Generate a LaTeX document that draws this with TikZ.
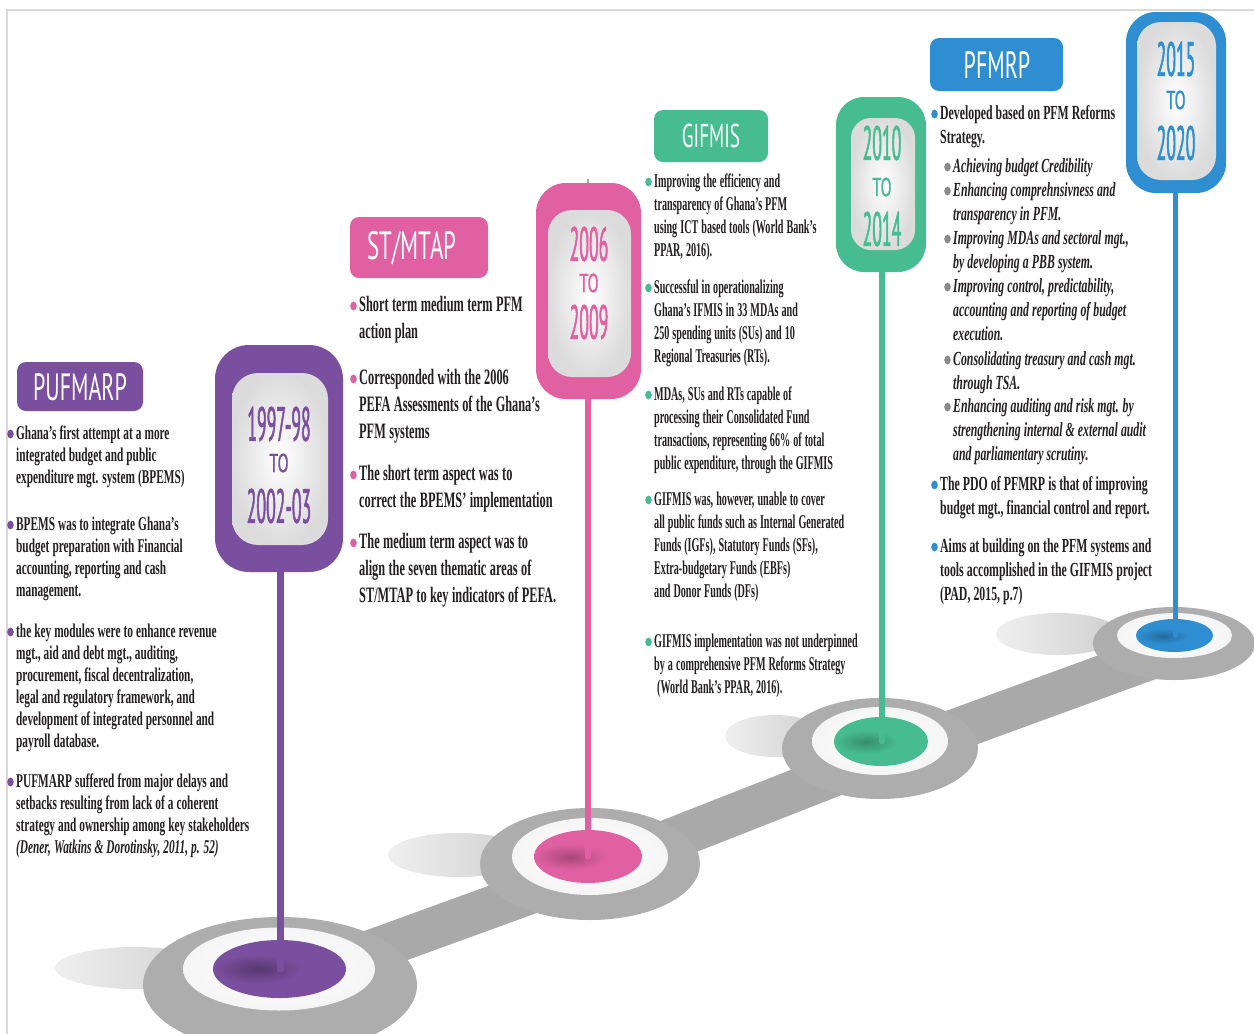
\documentclass[tikz,border=0pt]{standalone}
\usepackage{fontspec}
\setmainfont{Liberation Serif}
\newfontfamily\fpuf[FakeStretch=0.58]{Liberation Serif}
\newfontfamily\fst[FakeStretch=0.56]{Liberation Serif}
\newfontfamily\fgif[FakeStretch=0.52]{Liberation Serif}
\newfontfamily\fpfm[FakeStretch=0.59]{Liberation Serif}
\newfontfamily\ftitle[FakeStretch=0.58]{PT Sans}
\newfontfamily\fdate[FakeStretch=0.37,FakeBold=1]{PT Sans}
\newfontfamily\fto[FakeStretch=0.62,FakeBold=0.8]{PT Sans}
\usetikzlibrary{calc}
\definecolor{cpuf}{HTML}{7B4F9F}
\definecolor{cst}{HTML}{E060A1}
\definecolor{cgif}{HTML}{47BC92}
\definecolor{cpfm}{HTML}{2F8ED2}
\definecolor{diskgray}{HTML}{ADADAD}
\definecolor{txt}{HTML}{231F20}
\definecolor{framec}{HTML}{D9D9D9}
\definecolor{subgray}{HTML}{8A8A8A}
\newcommand\tightsp{\spaceskip=0.155em plus 0.05em\relax\xspaceskip=0.2em\relax}
\newcommand\bitem[6]{%
  \node[#4] (#1) at (#2,#3) {\tightsp #6};
  \fill[#5] ($(#1.base west)+(-5.5,-5)$) ellipse (3.3 and 4.4);}
\begin{document}
\begin{tikzpicture}[x=1pt,y=-1pt,
  para/.style={inner sep=0pt, anchor=base west, text width=330pt, align=left, text=txt},
  ppuf/.style={para, font=\fpuf\bfseries\fontsize{19.5}{22}\selectfont},
  pst/.style={para, font=\fst\bfseries\fontsize{22}{27.3}\selectfont},
  pgif/.style={para, font=\fgif\bfseries\fontsize{19.5}{23}\selectfont},
  ppfm/.style={para, font=\fpfm\bfseries\fontsize{20}{24}\selectfont},
  ppfmi/.style={para, font=\fpfm\bfseries\itshape\fontsize{20}{24}\selectfont},
  tab/.style={rounded corners=9pt},
  ttl/.style={inner sep=0pt, text=white},
  datebig/.style={inner sep=0pt, font=\fdate\fontsize{48}{48}\selectfont},
  datesmall/.style={inner sep=0pt, font=\fto\fontsize{26}{26}\selectfont},
  shadowdisk/.style={left color=gray!12, right color=gray!38},
]
\useasboundingbox (0,0) rectangle (1254,1034);
\fill[white] (0,0) rectangle (1254,1034);
\draw[framec, line width=2pt] (7,1034) -- (7,10) -- (1254,10);

% ---------- shadows ----------
\shade[shadowdisk] (135,968) ellipse (80 and 21);
\shade[shadowdisk] (458,855) ellipse (70 and 22);
\shade[shadowdisk] (775,736) ellipse (50 and 21);
\shade[shadowdisk] (1058,634) ellipse (62 and 21);

% ---------- road ----------
\draw[diskgray!105, line width=42pt, line join=round]
  (280,984) -- (588,872) -- (881,757) -- (1174,650);

% ---------- disks ----------
\fill[diskgray] (280,985) ellipse (137 and 68);
\fill[diskgray] (590,864) ellipse (110 and 56);
\fill[diskgray] (880,748.5) ellipse (98 and 50.5);
\fill[diskgray] (1174,643.5) ellipse (81 and 36.5);

\shade[inner color=white, outer color=gray!8] (279,969) ellipse (96 and 41.5);
\shade[inner color=white, outer color=gray!8] (590,856.5) ellipse (78 and 38.5);
\shade[inner color=white, outer color=gray!8] (880,741) ellipse (68 and 34);
\shade[inner color=white, outer color=gray!8] (1174.5,635.5) ellipse (57.5 and 22.5);

\fill[cpuf] (279.5,969) ellipse (66.5 and 29);
\fill[cst] (588,856.5) ellipse (54 and 26.5);
\fill[cgif] (881,741.5) ellipse (47 and 24.5);
\fill[cpfm] (1174.5,635.5) ellipse (38.5 and 16.5);

\shade[inner color=cpuf!70!black, outer color=cpuf] (258,969) ellipse (44 and 15);
\shade[inner color=cst!75!black, outer color=cst] (570,857) ellipse (36 and 13);
\shade[inner color=cgif!75!black, outer color=cgif] (866,742) ellipse (32 and 12);
\shade[inner color=cpfm!75!black, outer color=cpfm] (1163,636) ellipse (26 and 8);

% ---------- badges ----------
\draw[gray!70, line width=1.5pt] (588,179) -- (588,186);
\fill[cpuf, rounded corners=34pt] (215,345) rectangle (343,572);
\shade[inner color=white, outer color=gray!28, rounded corners=26pt] (232,373) rectangle (328,545);
\fill[cst, rounded corners=30pt] (536,183) rectangle (641,399);
\shade[inner color=white, outer color=gray!28, rounded corners=24pt] (548,210) rectangle (631,377);
\fill[cgif, rounded corners=28pt] (836,97) rectangle (926,272);
\shade[inner color=white, outer color=gray!28, rounded corners=20pt] (851,118) rectangle (915,250);
\fill[cpfm, rounded corners=30pt] (1126,12) rectangle (1226,193);
\shade[inner color=white, outer color=gray!28, rounded corners=24pt] (1137,22) rectangle (1216,180);

\node[coordinate] (b1) at (280,572) {};
\node[coordinate] (b2) at (588,399) {};
\node[coordinate] (b3) at (882,272) {};
\node[coordinate] (b4) at (1175,193) {};
\node[coordinate] (c1) at (280,969) {};
\node[coordinate] (c2) at (588,856.5) {};
\node[coordinate] (c3) at (882,741.5) {};
\node[coordinate] (c4) at (1175,635.5) {};
\draw[cpuf, line width=7pt, line cap=round] (b1) -- (c1);
\draw[cst, line width=6pt, line cap=round] (b2) -- (c2);
\draw[cgif, line width=5.5pt, line cap=round] (b3) -- (c3);
\draw[cpfm, line width=5pt, line cap=round] (b4) -- (c4);

\node[datebig, text=cpuf] (d1a) at (279,424) {1997-98};
\node[datesmall, text=cpuf] (d1b) at (279,463) {TO};
\node[datebig, text=cpuf] (d1c) at (279,506) {2002-03};
\node[datebig, text=cst] (d2a) at (589,244) {2006};
\node[datesmall, text=cst] (d2b) at (589,283) {TO};
\node[datebig, text=cst] (d2c) at (589,322) {2009};
\node[datebig, text=cgif] (d3a) at (882,143) {2010};
\node[datesmall, text=cgif] (d3b) at (882,187) {TO};
\node[datebig, text=cgif] (d3c) at (882,229) {2014};
\node[datebig, text=cpfm] (d4a) at (1176,59) {2015};
\node[datesmall, text=cpfm] (d4b) at (1176,100) {TO};
\node[datebig, text=cpfm] (d4c) at (1176,143) {2020};

% ---------- title tabs ----------
\fill[cpuf, tab] (17,362) rectangle (143,411);
\node[ttl, font=\ftitle\fontsize{38}{38}\selectfont] (t1) at (80,387) {PUFMARP};
\fill[cst, tab] (350,217) rectangle (488,278);
\node[ttl, font=\ftitle\fontsize{39.5}{39.5}\selectfont] (t2) at (412,248) {ST/MTAP};
\fill[cgif, tab] (654,110) rectangle (768,162);
\node[ttl, font=\ftitle\fontsize{33}{33}\selectfont] (t3) at (711,136) {GIFMIS};
\fill[cpfm, tab] (930,38) rectangle (1063,91);
\node[ttl, font=\ftitle\fontsize{38}{38}\selectfont] (t4) at (997,65) {PFMRP};

% ---------- PUFMARP text ----------
\bitem{p1}{16}{439}{ppuf}{cpuf}{Ghana’s first attempt at a more\\integrated budget and public\\expenditure mgt. system (BPEMS)}
\bitem{p2}{16}{530}{ppuf}{cpuf}{BPEMS was to integrate Ghana’s\\budget preparation with Financial\\accounting, reporting and cash\\management.}
\bitem{p3}{16}{637}{ppuf}{cpuf}{the key modules were to enhance revenue\\mgt., aid and debt mgt., auditing,\\procurement, fiscal decentralization,\\legal and regulatory framework, and\\development of integrated personnel and\\payroll database.}
\bitem{p4}{16}{787}{ppuf}{cpuf}{PUFMARP suffered from major delays and\\setbacks resulting from lack of a coherent\\strategy and ownership among key stakeholders\\\textit{(Dener, Watkins \& Dorotinsky, 2011, p. 52)}}

% ---------- ST/MTAP text ----------
\bitem{s1}{359}{311}{pst}{cst}{Short term medium term PFM\\action plan}
\bitem{s2}{359}{384}{pst}{cst}{Corresponded with the 2006\\PEFA Assessments of the Ghana’s\\PFM systems}
\bitem{s3}{359}{480}{pst}{cst}{The short term aspect was to\\correct the BPEMS’ implementation}
\bitem{s4}{359}{548}{pst}{cst}{The medium term aspect was to\\align the seven thematic areas of\\ST/MTAP to key indicators of PEFA.}

% ---------- GIFMIS text ----------
\bitem{g1}{654}{187}{pgif}{cgif}{Improving the efficiency and\\transparency of Ghana’s PFM\\using ICT based tools (World Bank’s\\PPAR, 2016).}
\bitem{g2}{654}{293}{pgif}{cgif}{Successful in operationalizing\\Ghana’s IFMIS in 33 MDAs and\\250 spending units (SUs) and 10\\Regional Treasuries (RTs).}
\bitem{g3}{654}{400}{pgif}{cgif}{MDAs, SUs and RTs capable of\\processing their Consolidated Fund\\transactions, representing 66\% of total\\public expenditure, through the GIFMIS}
\bitem{g4}{654}{505}{pgif}{cgif}{GIFMIS was, however, unable to cover\\all public funds such as Internal Generated\\Funds (IGFs), Statutory Funds (SFs),\\Extra-budgetary Funds (EBFs)\\and Donor Funds (DFs)}
\bitem{g5}{654}{647}{pgif}{cgif}{GIFMIS implementation was not underpinned\\by a comprehensive PFM Reforms Strategy\\\hspace*{3pt}(World Bank’s PPAR, 2016).}

% ---------- PFMRP text ----------
\bitem{f1}{940}{119}{ppfm}{cpfm}{Developed based on PFM Reforms\\Strategy.}
\bitem{f2}{953}{172}{ppfmi}{subgray}{Achieving budget Credibility}
\bitem{f3}{953}{196}{ppfmi}{subgray}{Enhancing comprehnsivness and\\transparency in PFM.}
\bitem{f4}{953}{244}{ppfmi}{subgray}{Improving MDAs and sectoral mgt.,\\by developing a PBB system.}
\bitem{f5}{953}{292}{ppfmi}{subgray}{Improving control, predictability,\\accounting and reporting of budget\\execution.}
\bitem{f6}{953}{365}{ppfmi}{subgray}{Consolidating treasury and cash mgt.\\through TSA.}
\bitem{f7}{953}{412}{ppfmi}{subgray}{Enhancing auditing and risk mgt. by\\strengthening internal \& external audit\\and parliamentary scrutiny.}
\bitem{f8}{940}{490}{ppfm}{cpfm}{The PDO of PFMRP is that of improving\\budget mgt., financial control and report.}
\bitem{f9}{940}{552}{ppfm}{cpfm}{Aims at building on the PFM systems and\\tools accomplished in the GIFMIS project\\(PAD, 2015, p.7)}
\end{tikzpicture}
\end{document}
